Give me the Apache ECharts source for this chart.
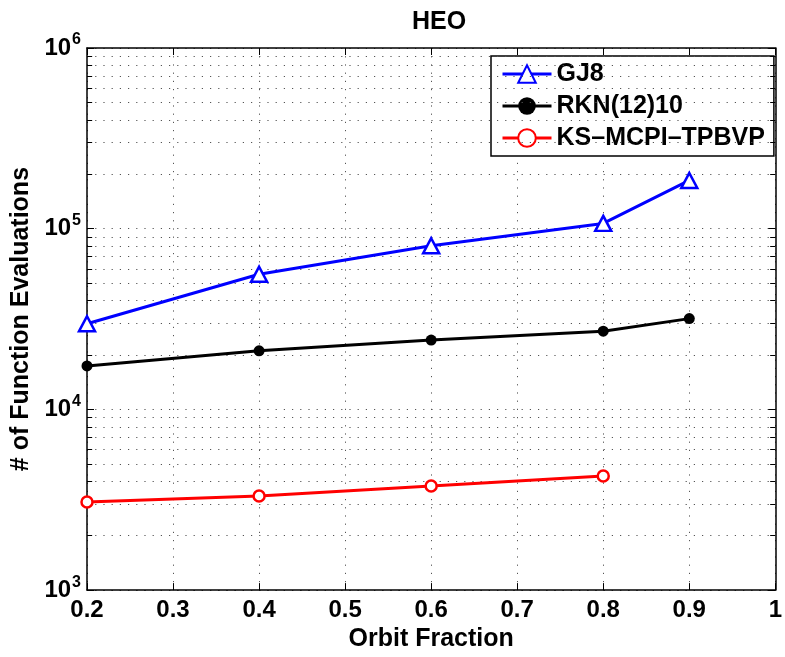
<!DOCTYPE html>
<html>
<head>
<meta charset="utf-8">
<script src="https://cdn.jsdelivr.net/npm/echarts@6/dist/echarts.min.js"></script>
<style>html,body{margin:0;padding:0;background:#fff;overflow:hidden}#c{width:100vw;height:100vh}</style>
</head>
<body>
<div id="c"></div>
<script>
const orbitFraction = [0.2, 0.4, 0.6, 0.8, 0.9];
const gj8 = [29800, 56000, 80500, 107000, 185000];
const rkn = [17400, 21100, 24200, 27100, 31800];
const ksFraction = [0.2, 0.4, 0.6, 0.8];
const ks = [3070, 3320, 3770, 4280];
const xTicks = [0.2, 0.3, 0.4, 0.5, 0.6, 0.7, 0.8, 0.9, 1];
const minorY = [];
[1000, 10000, 100000].forEach(d => { for (let k = 2; k <= 9; k++) minorY.push(k * d); });

const FONT = '"Liberation Sans", Arial, Helvetica, sans-serif';
const gridDot = { color: '#555', width: 1, type: [1.2, 7] };

const chart = echarts.init(document.getElementById('c'));
const minorGrid = minorY.map(v => ({ yAxis: v }));
const minorTicks = [];
minorY.forEach(v => {
  minorTicks.push([{ coord: [xTicks[0], v] }, { coord: [xTicks[0] + 0.006, v] }]);
  minorTicks.push([{ coord: [xTicks[xTicks.length - 1] - 0.006, v] }, { coord: [xTicks[xTicks.length - 1], v] }]);
});

chart.setOption({
  animation: false,
  backgroundColor: '#fff',
  textStyle: { fontFamily: FONT },
  title: {
    text: 'HEO', left: 434, top: 5, textAlign: 'center',
    textStyle: { fontFamily: FONT, fontSize: 25, fontWeight: 'bold', color: '#000' }
  },
  legend: {
    orient: 'vertical', left: 491, top: 56,
    backgroundColor: '#fff', borderColor: '#000', borderWidth: 1.5,
    padding: [5, 9, 5, 10], itemGap: 6, itemWidth: 49, itemHeight: 22,
    lineStyle: { width: 3 },
    textStyle: { fontFamily: FONT, fontSize: 25, fontWeight: 'bold', color: '#000', lineHeight: 26 },
    data: ['GJ8', 'RKN(12)10', 'KS–MCPI–TPBVP']
  },
  grid: { left: 87, top: 48, right: 4, bottom: 62, containLabel: false },
  xAxis: [{
    type: 'value', min: 0.2, max: 1, interval: 0.1,
    name: 'Orbit Fraction', nameLocation: 'middle', nameGap: 33,
    nameTextStyle: { fontFamily: FONT, fontSize: 25, fontWeight: 'bold', color: '#000' },
    axisLine: { show: true, onZero: false, lineStyle: { color: '#000', width: 1.5 } },
    axisTick: { show: true, inside: true, length: 7, lineStyle: { color: '#000', width: 1 } },
    axisLabel: { margin: 8, fontFamily: FONT, fontSize: 24, fontWeight: 'bold', color: '#000',
      formatter: v => (Math.round(v * 10) / 10).toString() },
    splitLine: { show: true, lineStyle: gridDot }
  }, {
    type: 'value', min: 0.2, max: 1, interval: 0.1, position: 'top',
    axisLine: { show: true, onZero: false, lineStyle: { color: '#000', width: 1.5 } },
    axisTick: { show: true, inside: true, length: 7, lineStyle: { color: '#000', width: 1 } },
    axisLabel: { show: false }, splitLine: { show: false }
  }],
  yAxis: [{
    type: 'log', logBase: 10, min: 1000, max: 1000000,
    name: '# of Function Evaluations', nameLocation: 'middle', nameGap: 40, nameRotate: 90,
    nameTextStyle: { fontFamily: FONT, fontSize: 25, fontWeight: 'bold', color: '#000' },
    axisLine: { show: true, onZero: false, lineStyle: { color: '#000', width: 1.5 } },
    axisTick: { show: true, inside: true, length: 7, lineStyle: { color: '#000', width: 1 } },
    axisLabel: {
      margin: 6, color: '#000',
      formatter: v => '{b|10}{s|' + Math.round(Math.log10(v)) + '}',
      rich: {
        b: { fontFamily: FONT, fontSize: 24, fontWeight: 'bold', color: '#000' },
        s: { fontFamily: FONT, fontSize: 16, fontWeight: 'bold', color: '#000', padding: [0, 0, 16, 1] }
      }
    },
    splitLine: { show: true, lineStyle: gridDot }
  }, {
    type: 'log', logBase: 10, min: 1000, max: 1000000, position: 'right',
    axisLine: { show: true, onZero: false, lineStyle: { color: '#000', width: 1.5 } },
    axisTick: { show: true, inside: true, length: 7, lineStyle: { color: '#000', width: 1 } },
    axisLabel: { show: false }, splitLine: { show: false }
  }],
  series: [{
    name: '_minorgrid', type: 'line', data: [], z: 1, silent: true,
    markLine: {
      silent: true, symbol: ['none', 'none'], animation: false,
      label: { show: false }, lineStyle: gridDot,
      data: minorGrid
    }
  }, {
    name: '_minorticks', type: 'line', data: [], z: 1, silent: true,
    markLine: {
      silent: true, symbol: ['none', 'none'], animation: false,
      label: { show: false }, lineStyle: { color: '#000', width: 1, type: 'solid' },
      data: minorTicks
    }
  }, {
    name: 'GJ8', type: 'line', z: 5,
    data: orbitFraction.map((x, i) => [x, gj8[i]]),
    symbol: 'triangle', symbolSize: [16, 15],
    lineStyle: { color: '#0000ff', width: 3 },
    itemStyle: { color: '#fff', borderColor: '#0000ff', borderWidth: 2.5 }
  }, {
    name: 'RKN(12)10', type: 'line', z: 5,
    data: orbitFraction.map((x, i) => [x, rkn[i]]),
    symbol: 'circle', symbolSize: 11,
    lineStyle: { color: '#000', width: 3 },
    itemStyle: { color: '#000', borderColor: '#000', borderWidth: 0 }
  }, {
    name: 'KS–MCPI–TPBVP', type: 'line', z: 5,
    data: ksFraction.map((x, i) => [x, ks[i]]),
    symbol: 'circle', symbolSize: 11,
    lineStyle: { color: '#ff0000', width: 3 },
    itemStyle: { color: '#fff', borderColor: '#ff0000', borderWidth: 2.5 }
  }]
});
</script>
</body>
</html>
